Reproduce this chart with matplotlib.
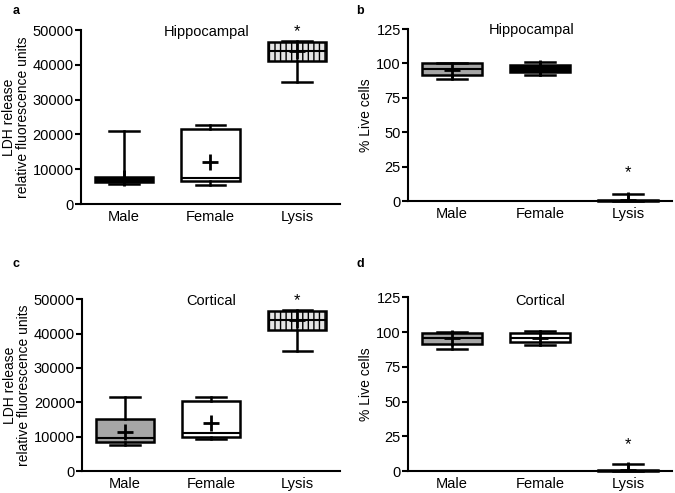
import matplotlib.pyplot as plt

plt.rcParams['font.family'] = ['Liberation Sans', 'DejaVu Sans']
plt.rcParams['hatch.linewidth'] = 1.0

groups = ['Male', 'Female', 'Lysis']

# each row: whislo, q1, median, q3, whishi, mean
ldh_hip = [[5800, 6300, 7000, 7800, 21000, 7500],
           [5500, 6500, 7500, 21500, 22800, 12000],
           [35000, 41000, 44000, 46500, 47000, 44000]]
live_hip = [[88.5, 92, 96, 100, 100, 95.5],
            [92, 94, 97, 99, 101, 97],
            [0, 0, 0, 0.5, 5, 0.5]]
ldh_ctx = [[7500, 8500, 9500, 15000, 21500, 11500],
           [9300, 10000, 11000, 20300, 21500, 14000],
           [35000, 41000, 44000, 46500, 47000, 44000]]
live_ctx = [[88, 91.5, 96, 99, 100, 95.5],
            [91, 93, 96, 99, 100.5, 95.5],
            [0, 0, 0, 0.5, 5, 0.5]]

ldh_ticks = [0, 10000, 20000, 30000, 40000, 50000]
live_ticks = [0, 25, 50, 75, 100, 125]

fig = plt.figure(figsize=(6.75, 4.93), dpi=100)


def panel(rect, rows, fills, hatches, ylim, yticks, ylabel, title, title_pos, star_y, letter, letter_pos):
    ax = fig.add_axes(rect)
    stats = []
    for r in rows:
        stats.append(dict(whislo=r[0], q1=r[1], med=r[2], q3=r[3], whishi=r[4], mean=r[5], fliers=[]))
    bp = ax.bxp(stats, positions=[0, 1, 2], widths=0.68, patch_artist=True,
                showmeans=True, showfliers=False,
                boxprops=dict(linewidth=1.8, edgecolor='black'),
                whiskerprops=dict(linewidth=1.8, color='black'),
                capprops=dict(linewidth=1.8, color='black'),
                medianprops=dict(linewidth=1.5, color='black'),
                meanprops=dict(marker='+', markersize=11, markeredgewidth=2,
                               markeredgecolor='black', zorder=5))
    for box, fc, h in zip(bp['boxes'], fills, hatches):
        box.set_facecolor(fc)
        if h:
            box.set_hatch(h)
    for art in bp['boxes'] + bp['whiskers'] + bp['caps'] + bp['medians']:
        art.set_clip_on(False)
    ax.set_xlim(-0.5, 2.5)
    ax.set_ylim(*ylim)
    ax.set_yticks(yticks)
    ax.set_xticks([0, 1, 2])
    ax.set_xticklabels(groups)
    ax.tick_params(axis='x', length=0, labelsize=10.5, pad=4)
    ax.tick_params(axis='y', length=4, width=1.5, labelsize=10.5, pad=1)
    for s in ['top', 'right']:
        ax.spines[s].set_visible(False)
    for s in ['left', 'bottom']:
        ax.spines[s].set_linewidth(1.5)
    ax.set_ylabel(ylabel, fontsize=10, linespacing=1.0, labelpad=2)
    ax.text(title_pos[0], title_pos[1], title, fontsize=10.5, ha='center', va='center')
    ax.text(2, star_y, '*', fontsize=12, ha='center', va='center')
    fig.text(letter_pos[0], letter_pos[1], letter, fontsize=9, fontweight='bold')
    return ax


ldh_label = 'LDH release\nrelative fluorescence units'

panel([0.1196, 0.586, 0.3844, 0.353], ldh_hip, ['black', 'white', '#e4e4e4'], [None, None, '|||'],
      (0, 50000), ldh_ticks, ldh_label, 'Hippocampal', (0.95, 49500), 49500, 'a', (0.018, 0.972))
panel([0.604, 0.592, 0.392, 0.349], live_hip, ['#a6a6a6', 'black', 'white'], [None, None, None],
      (0, 125), live_ticks, '% Live cells', 'Hippocampal', (0.9, 124), 20.5, 'b', (0.528, 0.972))
panel([0.1215, 0.0446, 0.3825, 0.3484], ldh_ctx, ['#a6a6a6', 'white', '#e4e4e4'], [None, None, '|||'],
      (0, 50000), ldh_ticks, ldh_label, 'Cortical', (1.0, 49500), 49500, 'c', (0.018, 0.458))
panel([0.604, 0.0446, 0.392, 0.3524], live_ctx, ['#a6a6a6', 'white', 'white'], [None, None, None],
      (0, 125), live_ticks, '% Live cells', 'Cortical', (1.0, 122), 18.7, 'd', (0.528, 0.458))

fig.savefig('out.png', dpi=100)
